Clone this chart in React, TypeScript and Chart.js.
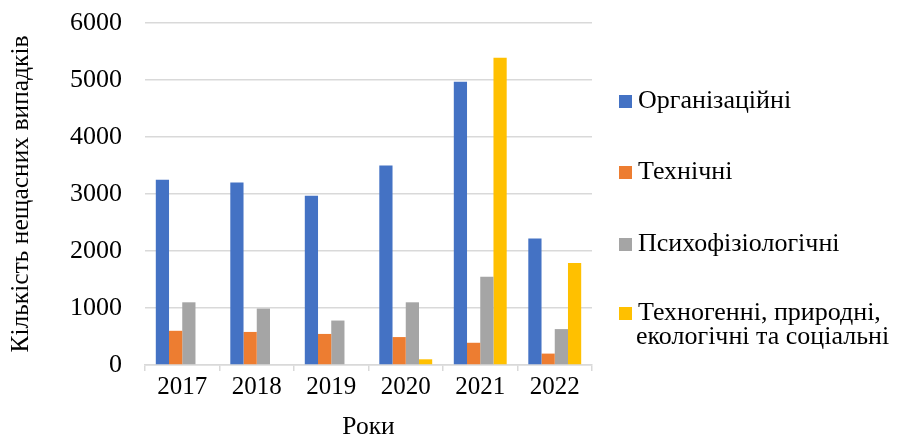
import React, { useEffect, useRef } from "react";
import { Chart, registerables } from "chart.js";

Chart.register(...registerables);

const categories = ["2017", "2018", "2019", "2020", "2021", "2022"];
const organizational = [3250, 3200, 2970, 3500, 4970, 2220];
const technical = [600, 580, 545, 490, 390, 200];
const psychophysiological = [1100, 990, 780, 1100, 1550, 630];
const technogenic = [0, 0, 0, 100, 5390, 1790];
const seriesLabels: (string | string[])[] = [
  "Організаційні",
  "Технічні",
  "Психофізіологічні",
  ["Техногенні, природні,", "екологічні та соціальні"],
];
const seriesColors = ["#4472C4", "#ED7D31", "#A5A5A5", "#FFC000"];
const yTitle = "Кількість нещасних випадків";
const xTitle = "Роки";

const FONT = '"Liberation Serif", serif';
Chart.defaults.font.family = FONT;

const legendPlugin = {
  id: "sideLegend",
  afterDraw(chart: any) {
    const ctx = chart.ctx;
    const rows = [101, 172, 244, 313];
    ctx.save();
    ctx.font = `26px ${FONT}`;
    ctx.textBaseline = "middle";
    ctx.textAlign = "left";
    chart.data.datasets.forEach((ds: any, i: number) => {
      const y = rows[i];
      ctx.fillStyle = ds.backgroundColor;
      ctx.fillRect(619, y - 6, 13, 13);
      ctx.fillStyle = "#000";
      const lines = Array.isArray(ds.legendText) ? ds.legendText : [ds.legendText];
      lines.forEach((ln: string, k: number) => {
        ctx.fillText(ln, k === 0 ? 638 : 636, y + k * 24);
      });
    });
    ctx.restore();
  },
};

export default function App() {
  const ref = useRef<HTMLCanvasElement>(null);
  useEffect(() => {
    document.body.style.margin = "0";
    const datasets = [organizational, technical, psychophysiological, technogenic].map((d, i) => ({
      label: Array.isArray(seriesLabels[i]) ? (seriesLabels[i] as string[]).join(" ") : (seriesLabels[i] as string),
      legendText: seriesLabels[i],
      data: d,
      backgroundColor: seriesColors[i],
      borderWidth: 0,
      categoryPercentage: 0.71,
      barPercentage: 1,
    }));
    const chart = new Chart(ref.current!, {
      type: "bar",
      data: { labels: categories, datasets: datasets as any },
      plugins: [legendPlugin],
      options: {
        animation: false,
        responsive: false,
        layout: { padding: { top: 23, right: 306, left: 0, bottom: 0 } },
        plugins: { legend: { display: false }, tooltip: { enabled: false } },
        scales: {
          x: {
            grid: {
              drawOnChartArea: false,
              drawTicks: true,
              tickLength: 6,
              color: "#d9d9d9",
              lineWidth: 1.5,
            },
            border: { color: "#d9d9d9", width: 1.5 },
            ticks: { color: "#000", font: { family: FONT, size: 25 }, padding: 1 },
            title: {
              display: true,
              text: xTitle,
              color: "#000",
              font: { family: FONT, size: 25.5 },
              padding: { top: 0, bottom: 0 },
            },
            afterFit: (s: any) => {
              s.height = 78;
            },
          },
          y: {
            min: 0,
            max: 6000,
            ticks: {
              stepSize: 1000,
              color: "#000",
              font: { family: FONT, size: 26 },
              padding: 0,
              callback: (v: any) => String(v),
            },
            grid: {
              color: "#d9d9d9",
              lineWidth: 1.5,
              drawTicks: true,
              tickLength: 23,
              tickColor: "rgba(0,0,0,0)",
            },
            border: { display: false },
            title: {
              display: true,
              text: yTitle,
              color: "#000",
              font: { family: FONT, size: 25.5 },
              padding: { top: 6, bottom: 0 },
            },
            afterFit: (s: any) => {
              s.width = 145;
            },
          },
        },
      },
    });
    return () => chart.destroy();
  }, []);
  return <canvas ref={ref} width={898} height={443} />;
}
